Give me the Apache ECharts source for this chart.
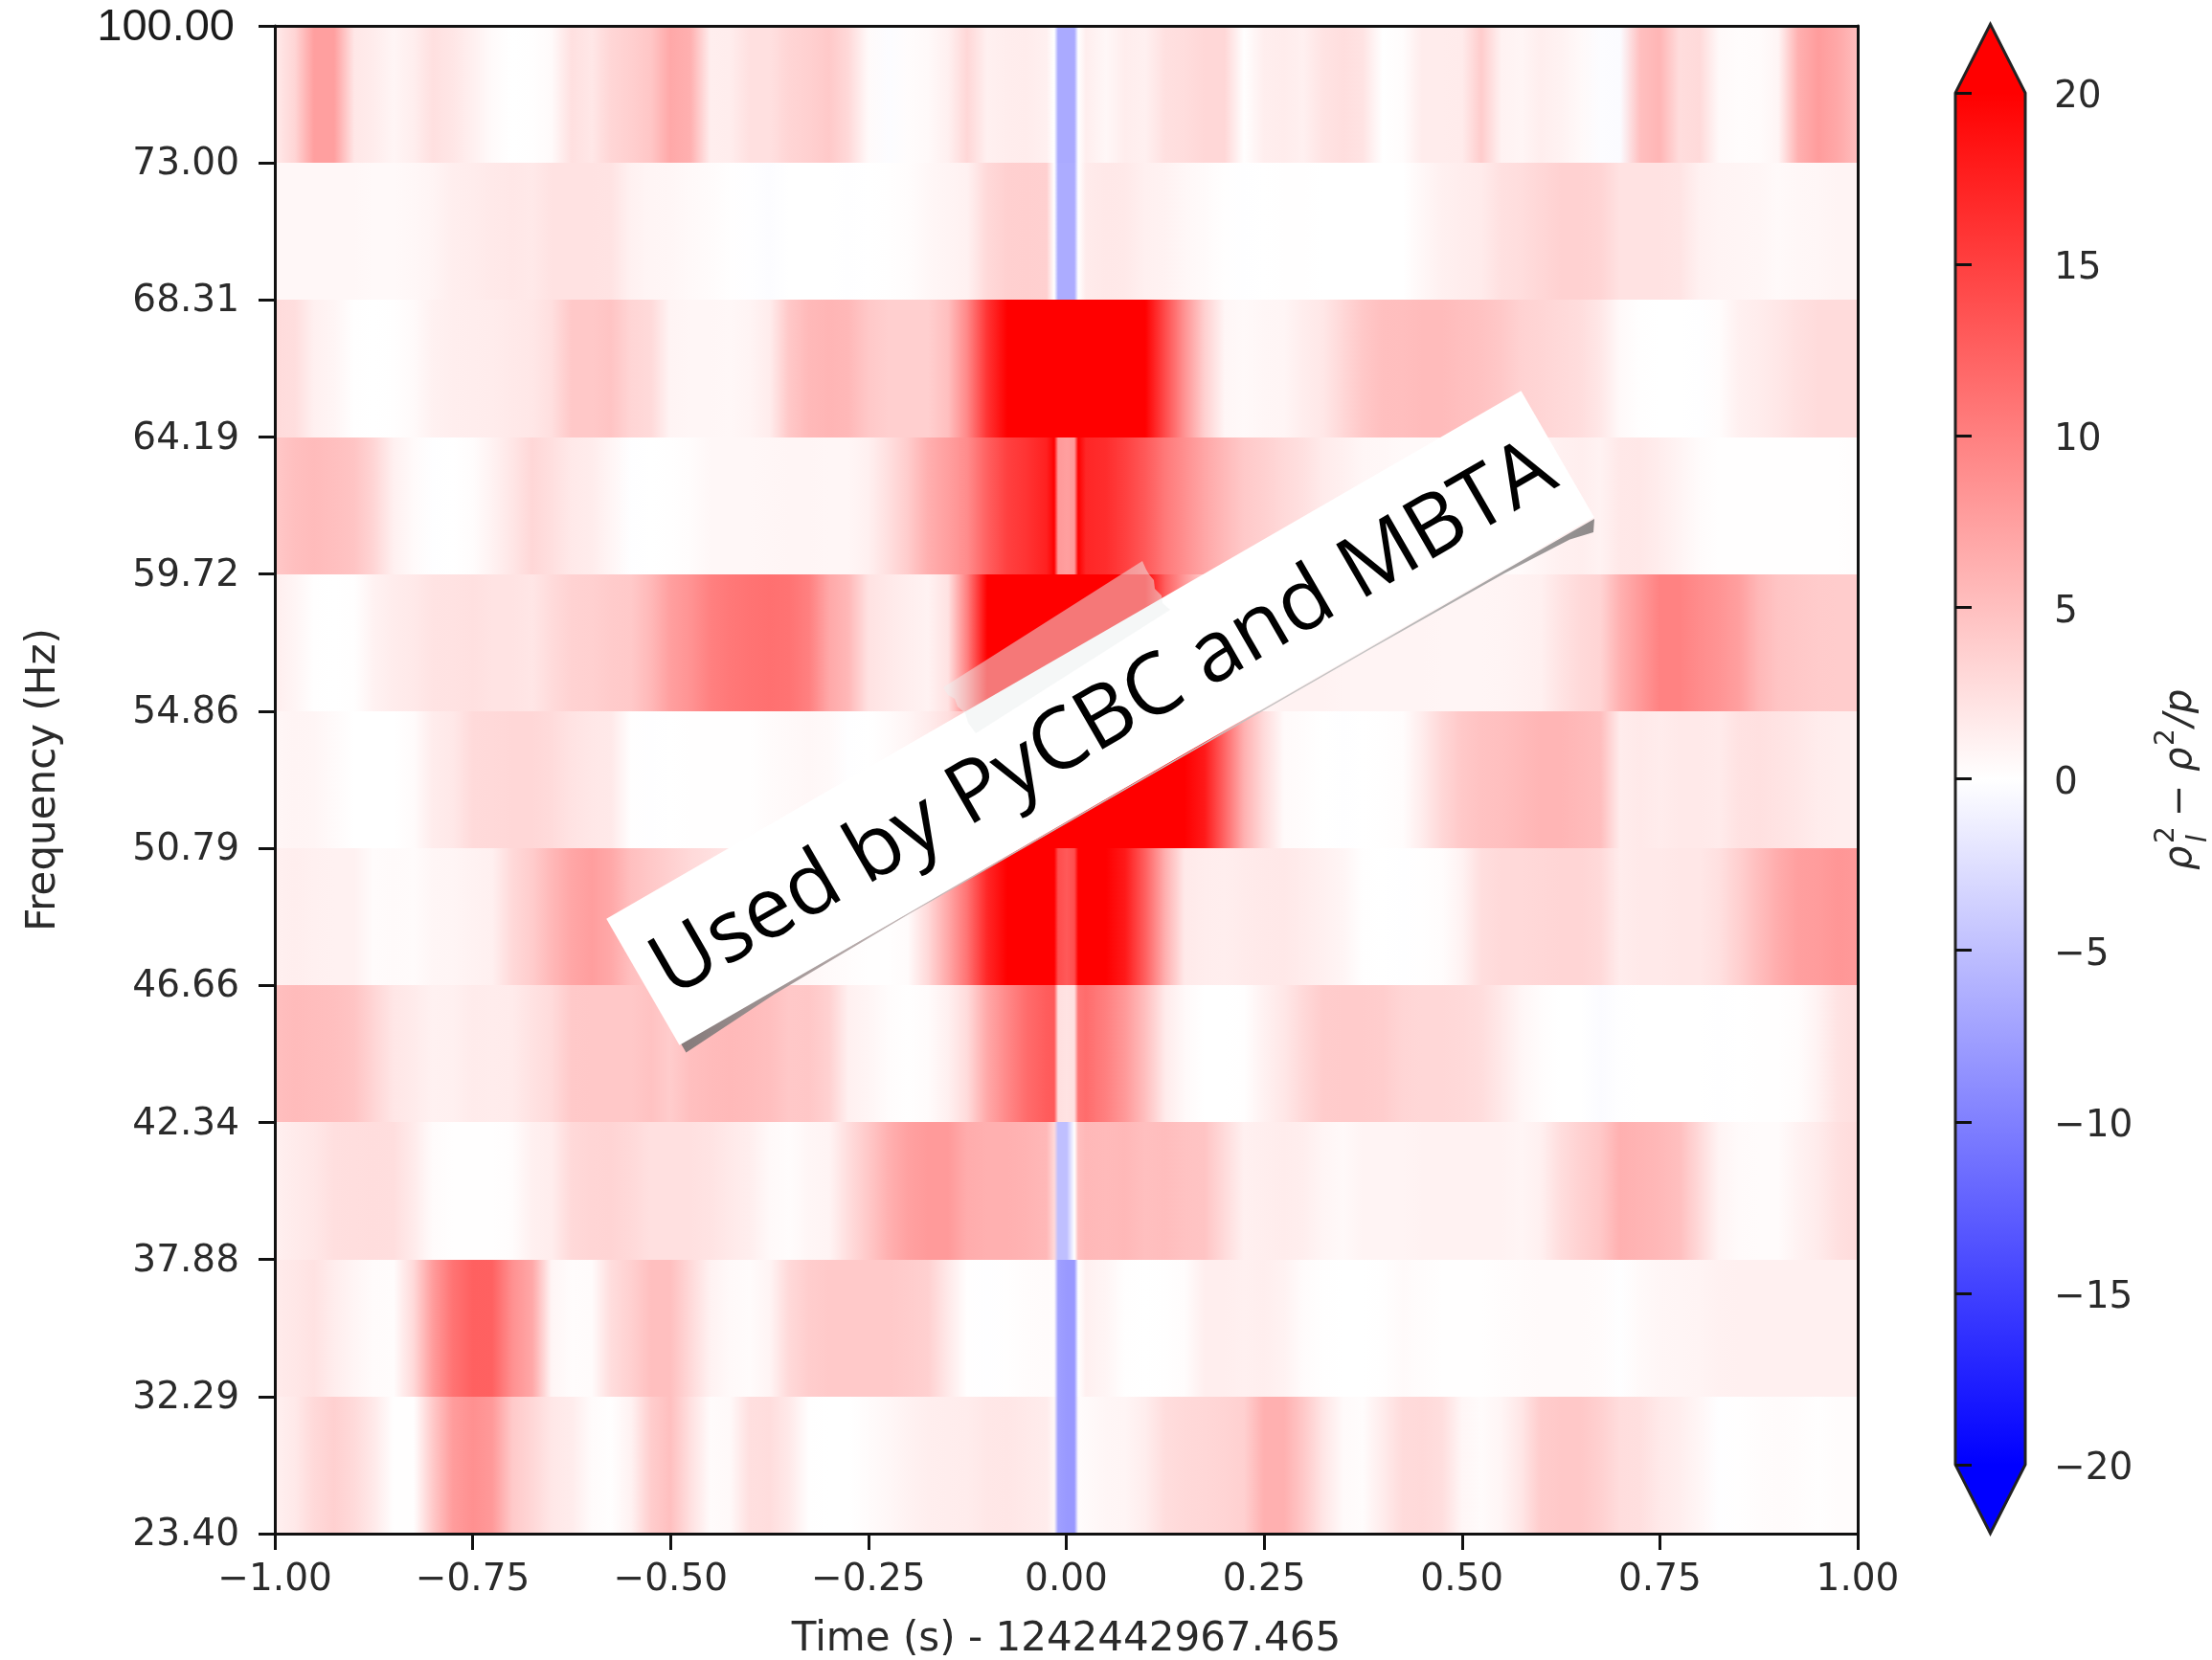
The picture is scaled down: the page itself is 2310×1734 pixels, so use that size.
<!DOCTYPE html>
<html><head><meta charset="utf-8">
<style>html,body{margin:0;padding:0;background:#fff}#c{width:2310px;height:1734px}</style>
<script src="https://cdn.jsdelivr.net/npm/echarts@6/dist/echarts.min.js"></script>
</head><body><div id="c"></div>
<script>
const freqLabels = ['100.00','73.00','68.31','64.19','59.72','54.86','50.79','46.66','42.34','37.88','32.29','23.40'];
const times = [-1,-0.975,-0.95,-0.925,-0.9,-0.875,-0.85,-0.825,-0.8,-0.775,-0.75,-0.725,-0.7,-0.675,-0.65,-0.625,-0.6,-0.575,-0.55,-0.525,-0.5,-0.475,-0.45,-0.425,-0.4,-0.375,-0.35,-0.325,-0.3,-0.275,-0.25,-0.225,-0.2,-0.175,-0.15,-0.125,-0.1,-0.075,-0.05,-0.025,
 -0.015,-0.01,0,0.01,0.015,
 0.025,0.05,0.075,0.1,0.125,0.15,0.175,0.2,0.225,0.25,0.275,0.3,0.325,0.35,0.375,0.4,0.425,0.45,0.475,0.5,0.525,0.55,0.575,0.6,0.625,0.65,0.675,0.7,0.725,0.75,0.775,0.8,0.825,0.85,0.875,0.9,0.925,0.95,0.975,1];
const row0 = [1.6,3.3,7.5,7.5,1.9,1.5,.8,1.3,2.4,2.0,1.2,.4,0,.1,.4,2.4,1.9,3.2,3.8,4.5,6.8,6.2,1.3,1.4,2.4,2.4,3.3,3.7,4.2,3.0,.4,-.2,.2,.5,1.2,3.1,1.2,1.4,1.5,1.2,
 0,-6.7,-6.7,-6.7,0,
 1.3,.6,1.4,1.2,2.4,2.7,3.1,3.1,.1,1.3,1.5,1.2,2.2,2.6,2.2,0,.2,1.5,1.5,1.6,4.0,1.0,.8,1.3,1.0,.5,-.2,-.3,5,5.8,2.7,2.9,.5,.2,.3,.8,6.2,7.8,6.8,5.2];
const row1 = [.6,.6,.6,.6,.6,.5,.5,.6,.9,1.3,1.5,1.7,1.9,1.7,2.3,2.3,2.3,2.2,1.1,.8,.7,.5,.3,.1,-.1,-.2,0,0,0,-.1,0,.1,.2,.6,.9,1.1,3.0,3.7,3.8,3.7,
 0,-6.5,-6.5,-6.5,0,
 1.6,1.8,1.7,1.2,1,.6,.4,.1,-.1,0,.1,.1,0,0,0,0,0,.6,1.2,1.4,1.6,2.4,2.7,3.1,3.6,3.6,3.4,2.3,2.3,2.3,2.1,1.1,.9,.8,.7,.5,.6,.7,.9,.9];
const row2 = [2.8,2.6,1.2,.8,.1,0,.1,.4,1.1,1.3,1.4,1.5,1.7,1.9,2.5,4.3,4.3,4.6,3.3,2.9,.9,.7,.7,.6,.9,1.5,4.3,5.5,5.8,5.6,4.3,3.8,3.8,3.8,5,9.3,16,21,24,24,
 24,24,24,24,24,
 24,24,24,22,14,8.5,3.7,.7,.5,.7,.8,1.4,1.9,3.1,4.3,5,5.1,5.3,5.3,5,4.8,4.3,3.5,3.3,3,2.7,1.9,.5,.1,0,0,-.05,.2,1.2,1.5,1.9,2.4,2.8,2.8,2.8];
const row3 = [4.3,5,5.3,5,4.6,3.3,1.2,.4,-.1,0,.2,1,2,3.1,2.5,1.7,1.5,.8,-.1,0,.1,.2,.6,.6,.6,.7,.8,.8,.7,.7,1.2,2.5,4,6.3,7.5,9,12.5,15,16,17.5,
 20,8,7.5,8,20,
 17,16.5,15,13,10.5,8.8,7,5.5,4.2,3.7,3,2.4,1.6,1.2,.7,.6,.5,.5,.4,.4,.3,.3,.4,.8,1.2,1.3,1.0,1.8,1.9,1.4,.9,.3,.1,.1,.1,.1,.1,.1,.1,.2];
const row4 = [1.3,.8,.05,0,.1,1,1.5,1.7,2.2,2.3,2.4,2.2,2.2,2,2.8,3.5,3.7,4.1,4.2,5.6,7.5,8.5,10,10.6,11,11.2,11,10,6.8,5.6,2.3,1.7,1.3,1,2.3,10,22,24,24,24,
 24,24,24,24,24,
 24,24,24,21,12.5,8,3.7,1,.8,.9,1,1,1,.9,.9,.9,.9,.9,.8,.8,.8,.9,1,1.2,2.2,3,3.4,6.2,8,9.8,9.8,9,8.4,7.5,5.6,4.6,4.3,4.1,4,4];
const row5 = [.7,.9,.8,.4,0,0,0,.3,1.5,1.8,2.9,3,3.1,3.1,2.8,2.2,1.9,1.7,.1,-.1,0,.1,.1,.1,.1,.3,.5,.6,.5,-.1,0,.3,.8,1.5,2.5,5,10,16,22,24,
 24,24,24,24,24,
 24,24,24,24,24,22,18,12,6.2,2.8,.4,.2,0,-.1,0,.1,.2,1.5,3.1,4.3,4.8,5,5.4,5.8,5.8,5.5,5.2,1.5,1.7,1.5,1.7,1.7,1.6,2.3,2.4,2.2,1.9,1.5,1.3,1.3];
const row6 = [1.2,1.3,1.2,1.1,1.1,.3,.4,.3,.7,.8,1,1.2,3,4,5.6,7,7.6,6.8,5,4.3,3.7,3,2.5,2,1.5,1,.8,.6,.4,.2,.1,.1,.3,3,6.8,11,17,24,24,24,
 24,14,13,14,24,
 24,24,18,12.5,6.2,1.7,1.4,1.3,1.6,1.7,1.8,1.5,1.2,.8,.1,0,-.1,.1,.2,1,2.6,3,3,3.1,3.3,3.3,3,1.5,1.7,1.7,1.9,1.9,2.4,3.7,5.2,6.5,7.5,7.8,8.2,8];
const row7 = [5,5.3,5.2,5,4.6,3.3,2,1.6,1.1,1.2,1.6,1.5,1.6,2.3,2.8,4.2,4.3,4.3,4.3,4.8,4,5,5.3,5.5,5.3,5,4.3,4.4,3.6,1.2,.8,.2,.1,.3,1.2,2.8,6.8,9.3,11.5,12.8,
 13,2.5,2.2,2.5,11,
 11.5,10,8,5,1.6,.5,0,0,.1,1.1,1.9,3,4,4.1,4.1,3.9,3.3,3.1,3.1,3,2.7,1.7,.7,.2,0,0,-.3,-.1,0,0,0,0,-.1,0,.05,.1,.2,1,2.2,2.6];
const row8 = [1.2,1.6,1.9,2.5,2.6,2.7,2.6,1.6,.3,.1,.05,.05,.2,1.2,1.4,3,3.3,3.4,3,2.4,2.4,2.4,2.2,1.7,1.3,.5,.2,.7,.9,2.7,4.3,6.2,7.4,7.9,7.9,6.5,6.2,6.2,6,5.6,
 3,-5,-5,0,5,
 5.6,5.4,5.6,5,5.2,4.8,4.6,2.8,1.2,1.3,1.5,1.3,.8,.5,.9,.9,.9,1,1,1,1,1,.8,1.2,2.7,3.6,4.3,6.2,5.9,5.6,5,2.9,.9,.4,.3,.3,1,1.6,2.4,2.8];
const row9 = [1.6,1.9,2.3,1.4,.8,.3,.2,3,7.8,11,12.5,12.4,8.7,6.8,.8,.2,.3,2.7,3.7,5,5,3,1,.5,.3,.9,3,3.9,4.2,4.2,4.2,4.2,4,3.7,1.7,.1,-.05,.1,.2,.3,
 .2,-7.5,-8,-8,0,
 1.2,.8,.1,0,.1,.2,1.3,1.3,1.2,1.3,1,.3,.1,0,0,.1,.4,.2,.1,.1,.1,.2,.3,.4,.4,.4,.3,-.05,.5,.7,.8,.9,1.1,1.2,1.2,1.2,1.2,1.2,1.2,1.2];
const row10 = [1.2,1.7,3,3.7,2.9,1.7,.1,.1,4.2,7.8,8.7,8,4.2,3.1,1.9,1.5,.3,.1,1,3.9,5,2.4,.3,.5,2.5,2.7,1.7,.1,0,0,.3,.6,1,1.3,1.4,1.5,1.9,2,1.7,1.5,
 .6,-7.5,-8,-8,.2,
 .4,.7,.8,1.4,2.7,3,3.1,3.4,3.7,6.2,6.2,4.3,2,.4,.2,1.5,2.8,3,2.6,.7,.3,.8,2,4,4.3,4.3,3.7,2.7,2.5,1.7,1.3,.7,-.05,.05,.2,.3,.2,.1,.2,.2];
const rows = [row0,row1,row2,row3,row4,row5,row6,row7,row8,row9,row10];
const colorbarLevels = [-20,-15,-10,-5,0,5,10,15,20];
const colorbarExtend = 22;
const labelName = 'Used by PyCBC and MBTA';

const TICK = '#222', TXT = '#2a2a2a', FONT = '"DejaVu Sans"';
function bwr(v){
  const t = Math.min(1, Math.abs(v)/20), g = Math.round(255*(1-t));
  return v >= 0 ? `rgb(255,${g},${g})` : `rgb(${g},${g},255)`;
}
const cells = [];
rows.forEach((vals,r)=>{
  for(let i=0;i<times.length-1;i++) cells.push([times[i],times[i+1],r,vals[i],vals[i+1]]);
});
const cbarCells = [];
for(let i=0;i<colorbarLevels.length-1;i++) cbarCells.push([colorbarLevels[i],colorbarLevels[i+1]]);
const G = echarts.graphic;

function renderCell(params, api){
  const p0 = api.coord([api.value(0), api.value(2)]);
  const p1 = api.coord([api.value(1), api.value(2)+1]);
  const x = Math.round(p0[0]), y = Math.round(p0[1]);
  return {type:'rect', shape:{x, y, width:Math.round(p1[0])-x, height:Math.round(p1[1])-y},
    style:{fill:new G.LinearGradient(0,0,1,0,[{offset:0,color:bwr(api.value(3))},{offset:1,color:bwr(api.value(4))}])}};
}
function renderCbar(params, api){
  const lo = api.coord([0, api.value(0)]), hi = api.coord([1, api.value(1)]);
  const y0 = Math.round(hi[1]), y1 = Math.round(lo[1]);
  return {type:'rect', shape:{x:lo[0], y:y0, width:hi[0]-lo[0], height:y1-y0},
    style:{fill:new G.LinearGradient(0,0,0,1,[{offset:0,color:bwr(api.value(1))},{offset:1,color:bwr(api.value(0))}])}};
}
function renderArrow(params, api){
  const base = api.value(0), tip = api.value(1);
  return {type:'polygon', shape:{points:[api.coord([0,base]),api.coord([0.5,tip]),api.coord([1,base])]},
    style:{fill:bwr(base)}};
}
function renderOutline(params, api){
  const m = colorbarLevels[colorbarLevels.length-1], n = colorbarLevels[0];
  const e = colorbarExtend;
  const pts = [[0,n],[0,m],[.5,e],[1,m],[1,n],[.5,-e]].map(p=>api.coord(p));
  return {type:'polygon', shape:{points:pts}, style:{fill:'none',stroke:'#222',lineWidth:3}};
}
const plainAxis = {axisLine:{show:true,onZero:false,lineStyle:{color:'#111',width:3}},axisTick:{show:false},axisLabel:{show:false},splitLine:{show:false},z:6};

const chart = echarts.init(document.getElementById('c'),null,{renderer:'canvas'});
chart.setOption({
  animation:false,
  backgroundColor:'#fff',
  grid:[{left:287,top:27,width:1653,height:1575,outerBoundsMode:'none'},{left:2042,top:97,width:73,height:1433,outerBoundsMode:'none'}],
  xAxis:[
    {type:'value',gridIndex:0,min:-1,max:1,interval:.25,position:'bottom',z:6,
     name:'Time (s) - 1242442967.465',nameLocation:'middle',nameGap:90,
     nameTextStyle:{fontFamily:FONT,fontSize:42,color:TXT},
     axisLine:{show:true,onZero:false,lineStyle:{color:'#111',width:3}},
     axisTick:{length:17,lineStyle:{color:'#111',width:3}},
     splitLine:{show:false},
     axisLabel:{fontFamily:FONT,fontSize:39,color:TXT,margin:29,formatter:v=>v.toFixed(2).replace('-','\u2212')}},
    Object.assign({type:'value',gridIndex:0,min:-1,max:1,position:'top'},plainAxis),
    {type:'value',gridIndex:1,min:0,max:1,show:false}
  ],
  yAxis:[
    {type:'value',gridIndex:0,min:0,max:11,interval:1,inverse:true,position:'left',z:6,
     name:'Frequency (Hz)',nameLocation:'middle',nameGap:220,
     nameTextStyle:{fontFamily:FONT,fontSize:42,color:TXT},
     axisLine:{show:true,onZero:false,lineStyle:{color:'#111',width:3}},
     axisTick:{length:17,lineStyle:{color:'#111',width:3}},
     splitLine:{show:false},
     axisLabel:{margin:37,fontFamily:FONT,fontSize:39,color:TXT,padding:[4,0,0,0],
       formatter:v=>{const s=freqLabels[v];return v===0?`{big|${s}}`:s;},
       rich:{big:{fontFamily:'"Liberation Sans"',fontSize:47,color:'#1c1c1c',padding:[0,5,0,0]}}}},
    Object.assign({type:'value',gridIndex:0,min:0,max:11,position:'right'},plainAxis),
    {type:'value',gridIndex:1,min:-20,max:20,interval:5,position:'right',z:6,
     axisLine:{show:false},
     axisTick:{length:17,lineStyle:{color:'#111',width:3}},
     splitLine:{show:false},
     axisLabel:{margin:30,fontFamily:FONT,fontSize:39,color:TXT,
       formatter:v=>'{n|'+String(v).replace('-','\u2212')+'}',
       rich:{n:{fontFamily:FONT,fontSize:39,color:TXT,padding:[10,0,0,0]}}}}
  ],
  series:[
    {type:'custom',name:'SNR residual',xAxisIndex:0,yAxisIndex:0,clip:true,renderItem:renderCell,
     encode:{x:[0,1],y:2},data:cells,silent:true},
    {type:'custom',name:'colorbar',xAxisIndex:2,yAxisIndex:2,renderItem:renderCbar,data:cbarCells,silent:true,z:3,
     encode:{y:[0,1]}},
    {type:'custom',name:'colorbar extend',xAxisIndex:2,yAxisIndex:2,renderItem:renderArrow,clip:false,silent:true,z:3,
     data:[[colorbarLevels[8],colorbarExtend],[colorbarLevels[0],-colorbarExtend]],encode:{y:[0]}},
    {type:'custom',name:'colorbar outline',xAxisIndex:2,yAxisIndex:2,renderItem:renderOutline,clip:false,silent:true,z:4,
     data:[[0,0]],encode:{y:[1]}}
  ],
  graphic:[
    // colour-bar label, built of small rotated text pieces
    {type:'group',x:2298,y:909,rotation:Math.PI/2,children:[
      {type:'text',x:0,y:0,z:20,style:{text:'ρ',font:'italic 40px "DejaVu Sans"',fill:TXT,verticalAlign:'bottom'}},
      {type:'text',x:28,y:-21,z:20,style:{text:'2',font:'28px "DejaVu Sans"',fill:TXT,verticalAlign:'bottom'}},
      {type:'text',x:29,y:13,z:20,style:{text:'l',font:'italic 28px "DejaVu Sans"',fill:TXT,verticalAlign:'bottom'}},
      {type:'text',x:56,y:0,z:20,style:{text:'\u2212',font:'40px "DejaVu Sans"',fill:TXT,verticalAlign:'bottom'}},
      {type:'text',x:103,y:0,z:20,style:{text:'ρ',font:'italic 40px "DejaVu Sans"',fill:TXT,verticalAlign:'bottom'}},
      {type:'text',x:130,y:-21,z:20,style:{text:'2',font:'28px "DejaVu Sans"',fill:TXT,verticalAlign:'bottom'}},
      {type:'text',x:150,y:0,z:20,style:{text:'/',font:'italic 40px "DejaVu Sans"',fill:TXT,verticalAlign:'bottom'}},
      {type:'text',x:164,y:0,z:20,style:{text:'p',font:'italic 40px "DejaVu Sans"',fill:TXT,verticalAlign:'bottom'}}
    ]},
    // curled shadow beneath the label
    {type:'polygon',z:50,shape:{points:[[711,1090],[716.5,1099.5],[808.4,1038.7],[950.2,954.3],[1427.2,680.3],[1570.9,599],[1639.4,563.6],[1664,556],[1665,542]]},
     style:{fill:new G.LinearGradient(0,0,1,0,[{offset:0,color:'#857a7a'},{offset:.25,color:'#c4b8b8'},{offset:.75,color:'#c4c4c4'},{offset:1,color:'#8f8a8a'}])}},
    // pasted paper label
    {type:'group',x:1149,y:750,rotation:30*Math.PI/180,children:[
      {type:'rect',z:51,shape:{x:-551.5,y:-76.3,width:1103,height:152.6},style:{fill:'#fff'}},
      {type:'text',z:52,x:2,y:4,style:{text:labelName,font:'89px "Open Sans"',fill:'#000',align:'center',verticalAlign:'middle'}}
    ]},
    // sticky tape
    {type:'polygon',z:53,shape:{points:[[985,718],[1193,586],[1197,595],[1200,600],[1205,606],[1206,615],[1213,622],[1214,630],[1222,637],[1019,766],[1011,755],[1008,745],[1000,738],[997,730],[990,726]]},
     style:{fill:'rgba(235,240,240,0.5)'}}
  ]
});
</script></body></html>
